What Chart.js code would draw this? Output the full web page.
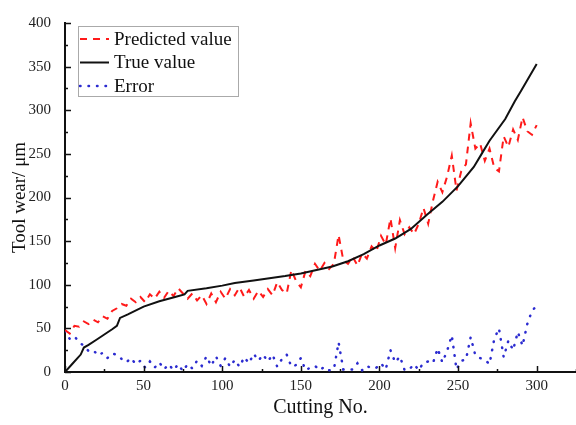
<!doctype html>
<html lang="en">
<head>
<meta charset="utf-8">
<title>Tool wear</title>
<style>
  * { margin: 0; padding: 0; }
  body { background: #fff; }
</style>
</head>
<body>
<canvas id="myChart" width="576" height="425"></canvas>

<script src="https://cdn.jsdelivr.net/npm/chart.js"></script>
<script>
// cutting numbers sampled every 3 cuts
const cuttingNo = Array.from({ length: 101 }, (_, i) => i * 3)

const predicted = [
  48, 44, 53, 52, 58, 55, 60, 57, 64, 61,
  70, 73, 78, 76, 84, 80, 86, 80, 89, 84,
  92, 85, 93, 87, 96, 90, 84, 90, 82, 88,
  78, 90, 80, 92, 84, 95, 88, 97, 86, 94,
  84, 93, 86, 95, 88, 103, 94, 90, 117, 104,
  97, 116, 110, 124, 116, 125, 118, 124, 157, 128,
  124, 132, 122, 136, 130, 144, 138, 156, 146, 176,
  142, 174, 158, 166, 158, 170, 188, 170, 196, 218,
  206, 224, 248, 208, 230, 238, 285, 256, 262, 242,
  256, 234, 230, 270, 258, 278, 266, 292, 276, 272,
  283
]

const errorValues = [
  47, 38, 41, 34, 30, 24, 25, 19, 22, 16,
  21, 20, 15, 11, 16, 9, 13, 5, 12, 5,
  11, 3, 9, 2, 9, 1, 9, 4, 13, 7,
  18, 7, 18, 7, 16, 6, 14, 6, 17, 10,
  21, 13, 20, 12, 20, 6, 15, 20, 6, 8,
  16, 2, 5, 7, 2, 6, 2, 3, 34, 3,
  3, 3, 10, 2, 7, 4, 5, 10, 3, 25,
  11, 18, 2, 3, 9, 2, 11, 12, 10, 27,
  11, 24, 42, 3, 13, 14, 40, 19, 16, 14,
  9, 38, 50, 17, 36, 25, 46, 30, 55, 70,
  76
]

// true wear curve, read at its bends
const trueNo = [0, 5, 10, 12, 15, 20, 25, 30, 33, 35, 40, 50, 60, 70, 76, 78, 90, 100, 108, 120, 140, 150, 160, 170, 180, 190, 200, 210, 220, 230, 240, 250, 260, 265, 270, 280, 286, 290, 300]
const trueWear = [0, 10, 20, 28, 31, 37, 43, 49, 53, 62, 66, 75, 81, 86, 89, 93, 96, 99, 102, 105, 110, 113, 117, 121, 127, 135, 145, 153, 164, 180, 195, 213, 235, 250, 265, 290, 310, 322, 353]

const xTicks = { min: 0, max: 325, major: 50, minor: 25 }
const yTicks = { min: 0, max: 400, major: 50, minor: 25 }

const serif = "'Liberation Serif', 'Times New Roman', serif"

const data = {
  datasets: [
    {
      label: 'Predicted value',
      data: cuttingNo.map((x, i) => ({ x: x, y: predicted[i] })),
      borderColor: '#ff1a1a',
      borderWidth: 2,
      borderDash: [7, 6],
      pointRadius: 0,
      order: 1
    },
    {
      label: 'True value',
      data: trueNo.map((x, i) => ({ x: x, y: trueWear[i] })),
      borderColor: '#111',
      borderWidth: 2,
      pointRadius: 0,
      order: 0
    },
    {
      label: 'Error',
      data: cuttingNo.map((x, i) => ({ x: x, y: errorValues[i] })),
      borderColor: '#2b2bd0',
      borderWidth: 2.5,
      borderDash: [0.5, 8],
      borderCapStyle: 'round',
      pointRadius: 0,
      order: 2
    }
  ]
}

// inward tick marks
const innerTicks = {
  id: 'innerTicks',
  afterDraw(chart) {
    const { ctx, scales: { x, y } } = chart
    ctx.save()
    ctx.strokeStyle = '#111'
    ctx.lineWidth = 1.5
    ctx.beginPath()
    for (let v = xTicks.min; v <= xTicks.max; v += xTicks.minor) {
      const px = Math.round(x.getPixelForValue(v)) + 0.5
      const len = v % xTicks.major === 0 ? 6 : 3
      ctx.moveTo(px, y.bottom)
      ctx.lineTo(px, y.bottom - len)
    }
    for (let v = yTicks.min; v <= yTicks.max; v += yTicks.minor) {
      const py = Math.round(y.getPixelForValue(v)) + 0.5
      const len = v % yTicks.major === 0 ? 6 : 3
      ctx.moveTo(x.left, py)
      ctx.lineTo(x.left + len, py)
    }
    ctx.stroke()
    ctx.restore()
  }
}

// framed legend in the top left of the plot
const legendBox = {
  id: 'legendBox',
  afterDraw(chart) {
    const { ctx, chartArea } = chart
    const left = chartArea.left + 13
    const top = chartArea.top + 3
    const w = 160, h = 70
    ctx.save()
    ctx.fillStyle = '#fff'
    ctx.fillRect(left, top, w, h)
    ctx.strokeStyle = '#aaa'
    ctx.lineWidth = 1
    ctx.strokeRect(left + 0.5, top + 0.5, w, h)
    ctx.font = '19px ' + serif
    ctx.textBaseline = 'middle'
    chart.data.datasets.forEach((ds, i) => {
      const cy = top + 13 + i * 23.5
      ctx.beginPath()
      ctx.strokeStyle = ds.borderColor
      ctx.lineWidth = ds.borderWidth
      ctx.lineCap = ds.borderCapStyle || 'butt'
      ctx.setLineDash(ds.borderDash || [])
      ctx.moveTo(left + 2, cy)
      ctx.lineTo(left + 31, cy)
      ctx.stroke()
      ctx.setLineDash([])
      ctx.fillStyle = '#111'
      ctx.fillText(ds.label, left + 36, cy + 1)
    })
    ctx.restore()
  }
}

const config = {
  type: 'line',
  data: data,
  options: {
    responsive: false,
    animation: false,
    layout: { padding: { top: 12, right: 0, left: 0, bottom: 0 } },
    plugins: {
      legend: { display: false },
      tooltip: { enabled: false }
    },
    scales: {
      x: {
        type: 'linear',
        min: xTicks.min,
        max: xTicks.max,
        grid: { display: false, drawTicks: false },
        border: { color: '#111', width: 2 },
        ticks: {
          stepSize: xTicks.major,
          includeBounds: false,
          padding: 5,
          color: '#222',
          font: { family: serif, size: 15 },
          maxRotation: 0
        },
        title: {
          display: true,
          text: 'Cutting No.',
          color: '#111',
          font: { family: serif, size: 20 },
          padding: { top: 0, bottom: 5 }
        },
        afterFit(scale) { scale.height = 53 }
      },
      y: {
        min: yTicks.min,
        max: yTicks.max,
        grid: { display: false, drawTicks: false },
        border: { color: '#111', width: 2 },
        ticks: {
          stepSize: yTicks.major,
          padding: 14,
          color: '#222',
          font: { family: serif, size: 15 }
        },
        title: {
          display: true,
          text: 'Tool wear/ μm',
          color: '#111',
          font: { family: serif, size: 19 },
          padding: { top: 9, bottom: 0 }
        },
        afterFit(scale) { scale.width = 65 }
      }
    }
  },
  plugins: [innerTicks, legendBox]
}

const myChart = new Chart(document.getElementById('myChart'), config)
</script>
</body>
</html>
